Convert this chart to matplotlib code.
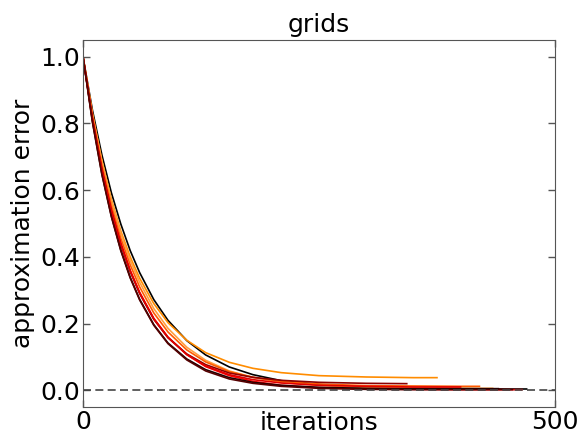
import numpy as np
import matplotlib
matplotlib.use('Agg')
import matplotlib.pyplot as plt

grid_iters = [0, 10, 20, 30, 40, 50, 60, 75, 90, 110, 130, 155, 180, 210, 250, 300, 350, 400, 450]
end_iters = [470, 375, 434, 420, 465, 343, 440, 400, 455]

errors = [
    [1.0, .840, .706, .593, .499, .419, .353, .272, .210, .149, .106, .070, .047, .029, .017, .009, .006, .005, .004, .004],
    [1.0, .829, .689, .573, .478, .400, .336, .260, .203, .150, .113, .084, .066, .053, .044, .040, .038, .038],
    [1.0, .828, .686, .568, .471, .390, .324, .245, .186, .129, .090, .058, .039, .024, .015, .009, .007, .006, .006],
    [1.0, .821, .674, .554, .456, .376, .310, .232, .175, .121, .085, .056, .039, .027, .019, .014, .013, .012, .012],
    [1.0, .815, .664, .542, .442, .360, .294, .216, .160, .107, .071, .044, .027, .015, .008, .004, .003, .002, .002, .002],
    [1.0, .812, .660, .537, .437, .356, .290, .213, .158, .109, .077, .052, .039, .030, .024, .021, .020],
    [1.0, .806, .649, .523, .421, .339, .273, .197, .142, .094, .062, .038, .024, .015, .009, .006, .005, .005, .005],
    [1.0, .812, .661, .538, .439, .358, .292, .214, .158, .107, .073, .047, .032, .022, .015, .012, .010, .010],
    [1.0, .804, .647, .521, .419, .337, .271, .195, .140, .091, .058, .034, .021, .012, .006, .003, .002, .002, .002, .002],
]
colors = ['#000000', '#ff8c00', '#ffa040', '#ff5a00', '#ff0000',
          '#8b0000', '#200000', '#e00000', '#550000']

plt.rcParams['font.family'] = 'DejaVu Sans'
plt.rcParams['font.size'] = 18

fig = plt.figure(figsize=(5.87, 4.36), dpi=100)
ax = fig.add_axes([0.1414, 0.0665, 0.804, 0.8415])

for err, end, c in zip(errors, end_iters, colors):
    its = grid_iters[:len(err) - 1] + [end]
    ax.plot(its, err, color=c, lw=1.2)

ax.axhline(0, color='#444444', lw=1.2, linestyle=(0, (4.8, 2.6)))

ax.set_xlim(0, 500)
ax.set_ylim(-0.05, 1.05)
ax.set_xticks([0, 500])
ax.set_yticks([0.0, 0.2, 0.4, 0.6, 0.8, 1.0])
ax.tick_params(direction='in', length=5, width=1, color='#555555', pad=2,
               right=True, top=True)
for s in ax.spines.values():
    s.set_color('#555555')

ax.set_title('grids', fontsize=18)
ax.set_xlabel('iterations', fontsize=18)
ax.set_ylabel('approximation error', fontsize=18)
ax.xaxis.set_label_coords(0.5, -0.012)

fig.savefig('out.png', dpi=100)
